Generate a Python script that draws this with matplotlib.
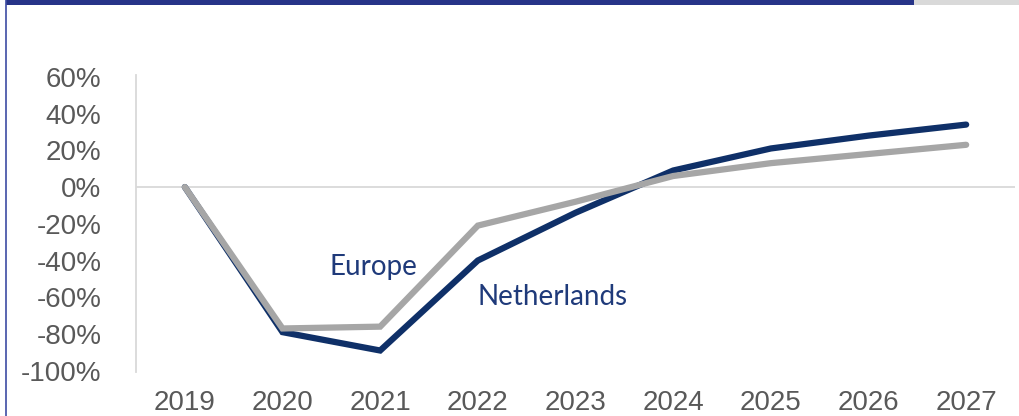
import matplotlib
matplotlib.use("Agg")
import matplotlib.pyplot as plt
from matplotlib.patches import Rectangle
from matplotlib.lines import Line2D

# Daten
years = ["2019", "2020", "2021", "2022", "2023", "2024", "2025", "2026", "2027"]
netherlands = [0, -79, -89, -40, -14, 9, 21, 28, 34]
europe = [0, -77, -76, -21, -8, 6, 13, 18, 23]
y_ticks = [-100, -80, -60, -40, -20, 0, 20, 40, 60]

navy = "#0f3068"
grey = "#a6a6a6"

fig = plt.figure(figsize=(10.2, 4.16), dpi=100)
ax = fig.add_axes([136 / 1020, 1 - 372 / 416, (1015 - 136) / 1020, (372 - 75) / 416])

x = list(range(len(years)))
ax.plot(x, netherlands, color=navy, lw=4.5, solid_capstyle="round", solid_joinstyle="miter", zorder=3)
ax.plot(x, europe, color=grey, lw=4.5, solid_capstyle="round", solid_joinstyle="miter", zorder=4)

ax.axhline(0, color="#d9d9d9", lw=1.3, zorder=1)

ax.set_xlim(-0.5, len(years) - 0.5)
ax.set_ylim(-100.7, 61)
ax.set_xticks(x)
ax.set_xticklabels(years)
ax.set_yticks(y_ticks)
ax.set_yticklabels([f"{v}%" for v in y_ticks])

for s in ["top", "right", "bottom"]:
    ax.spines[s].set_visible(False)
ax.spines["left"].set_color("#d9d9d9")
ax.spines["left"].set_linewidth(1.3)

ax.tick_params(axis="both", length=0, labelsize=20, labelcolor="#595959")
ax.tick_params(axis="y", pad=25)
ax.tick_params(axis="x", pad=13)
for lab in ax.get_xticklabels() + ax.get_yticklabels():
    lab.set_fontfamily("Liberation Sans")

ax.text(1.93, -43.5, "Europe", color="#1f3a7a", fontsize=20, family="Lato",
        ha="center", va="center")
ax.text(3.77, -60, "Netherlands", color="#1f3a7a", fontsize=20, family="Lato",
        ha="center", va="center")

# Rahmen oben und links
fig.patches.append(Rectangle((6 / 1020, 1 - 5 / 416), (914 - 6) / 1020, 5 / 416,
                             transform=fig.transFigure, color="#273488", lw=0))
fig.patches.append(Rectangle((914 / 1020, 1 - 5 / 416), (1020 - 914) / 1020, 5 / 416,
                             transform=fig.transFigure, color="#d9d9d9", lw=0))
fig.add_artist(Line2D([6.5 / 1020, 6.5 / 1020], [0, 1], transform=fig.transFigure,
                      color="#3d4ba3", lw=1.2))

fig.savefig("out.png", dpi=100)
